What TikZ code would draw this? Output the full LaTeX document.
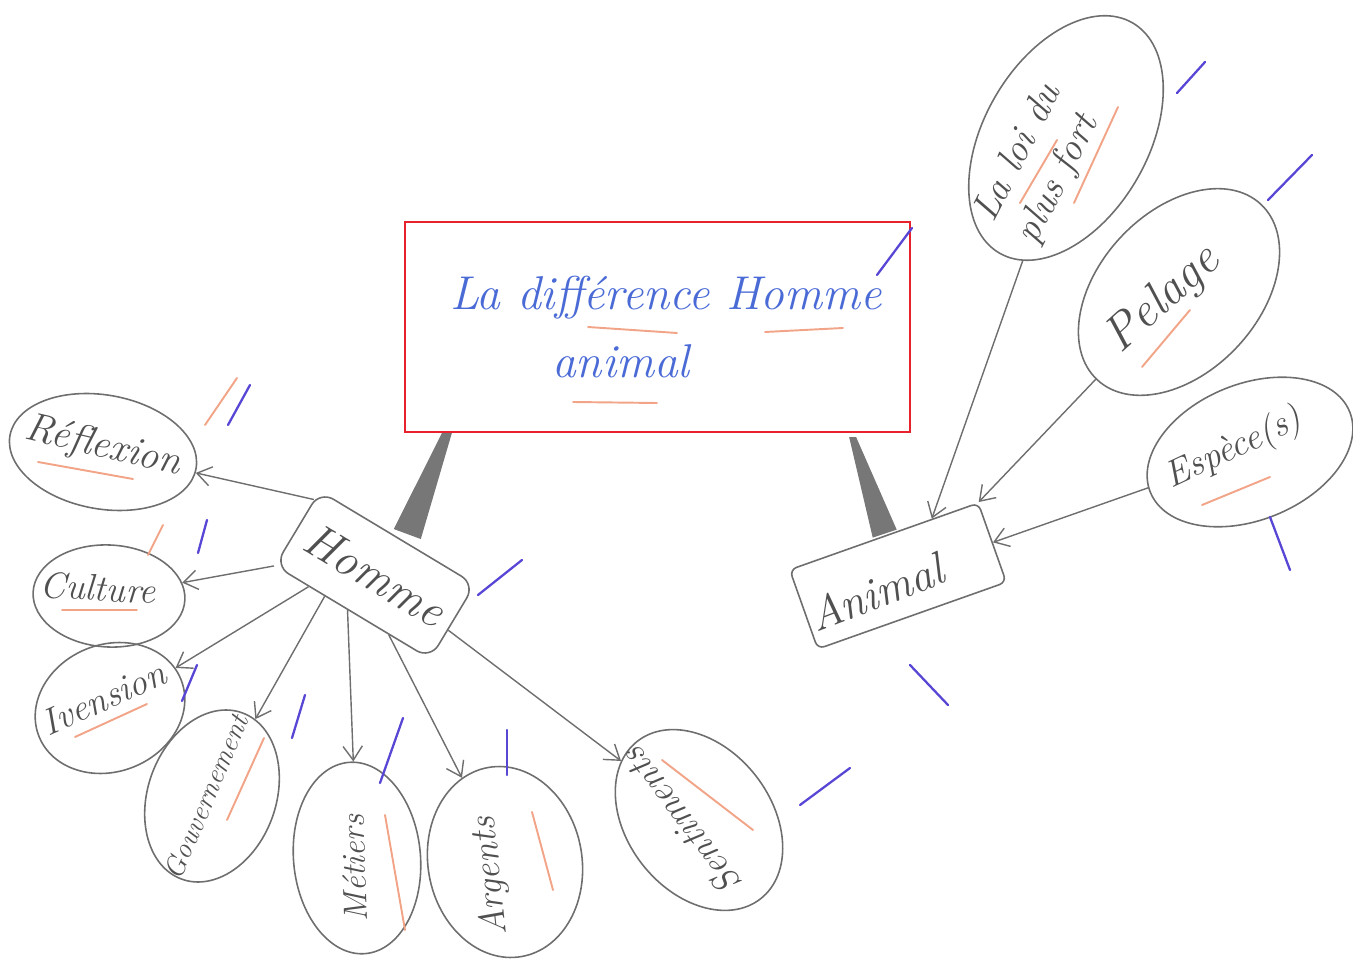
\documentclass[tikz,border=0pt]{standalone}
\usetikzlibrary{arrows.meta,calc,shapes.geometric,backgrounds}
\definecolor{pencil}{HTML}{6E6E6E}
\definecolor{penciltxt}{HTML}{505050}
\definecolor{redbox}{HTML}{E8222C}
\definecolor{bluetxt}{HTML}{4A6AD6}
\definecolor{bluepen}{HTML}{5846D4}
\definecolor{orangepen}{HTML}{F2A488}
\definecolor{stemgray}{HTML}{777777}
\newcommand{\hw}[1]{\fontsize{#1}{#1}\selectfont\itshape}
\begin{document}
\begin{tikzpicture}[x=0.02cm,y=-0.02cm,
  bubble/.style={ellipse, draw=pencil, line width=0.9pt, inner sep=0pt},
  boxnode/.style={rectangle, draw=pencil, line width=0.9pt, inner sep=0pt, text=penciltxt, fill=white},
  label/.style={text=penciltxt, inner sep=0pt},
  link/.style={draw=pencil, line width=0.8pt, -{Straight Barb[length=8pt,width=11pt]}},
  bluestroke/.style={bluepen, line width=1.3pt, line cap=round},
  orangestroke/.style={orangepen, line width=1.1pt, line cap=round},
  titletext/.style={text=bluetxt, font=\hw{27}, inner sep=0pt}]
\useasboundingbox (0,0) rectangle (1353,959);

% title
\node[draw=redbox, line width=1.4pt, minimum width=10.1cm, minimum height=4.2cm, inner sep=0pt] (title) at (657.5,327) {};
\node[titletext, anchor=base] (t1) at (666,310) {La différence Homme};
\node[titletext, anchor=base] (t2) at (621,378) {animal};

% central boxes
\node[boxnode, rounded corners=9pt, rotate=-31, minimum width=3.62cm, minimum height=1.74cm, font=\hw{27}] (homme) at (375,575) {Homme};
\node[boxnode, rounded corners=4pt, rotate=19.5, minimum width=4.0cm, minimum height=1.68cm] (animal) at (898,576) {};
\node[label, rotate=21, font=\hw{26}] (animalT) at (876,592) {Animal};

% stems
\begin{scope}[on background layer]
\fill[stemgray] ($(title.south west)+(38,0)$) -- ($(title.south west)+(48,0)$) -- ($(homme.north)+(23,2)$) -- ($(homme.north)+(-4,-8)$) -- cycle;
\fill[stemgray] ($(title.south east)+(-62,4)$) -- ($(title.south east)+(-55,4)$) -- ($(animal.north)+(13,-6)$) -- ($(animal.north)+(-11,2)$) -- cycle;
\end{scope}

% Homme bubbles (outlines)
\node[bubble, rotate=-10, minimum width=3.78cm, minimum height=2.28cm] (refl) at (103,452) {};
\node[bubble, rotate=-3, minimum width=3.04cm, minimum height=2.04cm] (cult) at (109,596) {};
\node[bubble, rotate=22, minimum width=3.06cm, minimum height=2.54cm] (inv) at (110,708) {};
\node[bubble, rotate=70, minimum width=3.54cm, minimum height=2.56cm] (gouv) at (212,796) {};
\node[bubble, rotate=95, minimum width=3.84cm, minimum height=2.54cm] (met) at (357,858) {};
\node[bubble, rotate=100, minimum width=3.84cm, minimum height=3.08cm] (arg) at (505,862) {};
\node[bubble, rotate=128, minimum width=4.0cm, minimum height=2.88cm] (sent) at (699,820) {};
% Homme bubbles (texts)
\node[label, rotate=-13, font=\hw{23}] (reflT) at (103,447) {Réflexion};
\node[label, rotate=-3, font=\hw{21}] (cultT) at (98,588) {Culture};
\node[label, rotate=24, font=\hw{21}] (invT) at (104,698) {Ivension};
\node[label, rotate=67, font=\hw{16}] (gouvT) at (206,797) {Gouvernement};
\node[label, rotate=92, font=\hw{19}] (metT) at (354,868) {Métiers};
\node[label, rotate=96, font=\hw{21}] (argT) at (491,876) {Argents};
\node[label, rotate=127, font=\hw{21}] (sentT) at (681,822) {Sentiments};

% Animal bubbles
\node[bubble, rotate=60, minimum width=5.32cm, minimum height=3.28cm] (loi) at (1066,138) {};
\node[label, rotate=63, align=left, font=\fontsize{22}{27}\selectfont\itshape] (loiT) at (1040,164) {La loi du\\plus fort};
\node[bubble, rotate=47, minimum width=4.8cm, minimum height=3.2cm] (pel) at (1179,292) {};
\node[label, rotate=42, font=\hw{28}] (pelT) at (1163,300) {Pelage};
\node[bubble, rotate=22, minimum width=4.3cm, minimum height=2.72cm] (esp) at (1250,452) {};
\node[label, rotate=25, font=\hw{21}] (espT) at (1234,449) {Espèce(s)};

% connectors
\draw[link] (homme.160) -- (refl);
\draw[link] (homme.south west) -- (cult);
\draw[link] (homme.221) -- (inv);
\draw[link] (homme.234) -- (gouv);
\draw[link] (homme.263) -- (met);
\draw[link] (homme.314) -- (arg);
\draw[link] (homme.-6) -- (sent);
\draw[link] (loi) -- (animal.40);
\draw[link] (pel) -- (animal.north east);
\draw[link] (esp) -- (animal.east);

% orange underlines
\draw[orangestroke] (588,327) -- (677,333);
\draw[orangestroke] (765,332) -- (843,328);
\draw[orangestroke] (573,402) -- (657,403);
\draw[orangestroke] (38,462) -- (133,479);
\draw[orangestroke] (62,610) -- (137,610);
\draw[orangestroke] (75,737) -- (147,704);
\draw[orangestroke] (227,820) -- (264,738);
\draw[orangestroke] (385,815) -- (405,930);
\draw[orangestroke] (532,812) -- (553,890);
\draw[orangestroke] (662,760) -- (753,830);
\draw[orangestroke] (1020,203) -- (1057,140);
\draw[orangestroke] (1074,203) -- (1118,107);
\draw[orangestroke] (1142,367) -- (1190,310);
\draw[orangestroke] (1202,505) -- (1270,477);
\draw[orangestroke] (205,425) -- (237,378);
\draw[orangestroke] (148,555) -- (163,525);

% blue pen strokes
\draw[bluestroke] (1177,93) -- (1205,62);
\draw[bluestroke] (1268,200) -- (1312,155);
\draw[bluestroke] (877,275) -- (912,228);
\draw[bluestroke] (228,425) -- (250,385);
\draw[bluestroke] (198,553) -- (207,520);
\draw[bluestroke] (478,595) -- (522,560);
\draw[bluestroke] (182,701) -- (197,665);
\draw[bluestroke] (292,738) -- (305,695);
\draw[bluestroke] (380,783) -- (403,718);
\draw[bluestroke] (507,775) -- (507,730);
\draw[bluestroke] (800,805) -- (850,768);
\draw[bluestroke] (910,665) -- (948,705);
\draw[bluestroke] (1270,517) -- (1290,570);
\end{tikzpicture}
\end{document}
